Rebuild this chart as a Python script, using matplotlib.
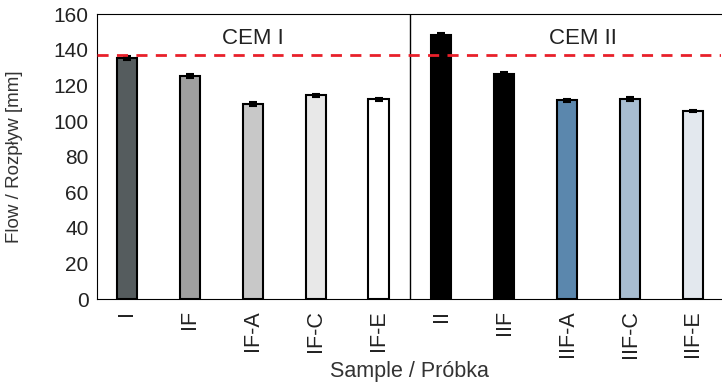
import numpy as np
import matplotlib.pyplot as plt

plt.rcParams['font.family'] = ['Liberation Sans', 'DejaVu Sans']

samples = ['I', 'IF', 'IF-A', 'IF-C', 'IF-E', 'II', 'IIF', 'IIF-A', 'IIF-C', 'IIF-E']
flow = [135.3, 125.2, 109.5, 114.5, 112.3, 148.2, 126.3, 111.7, 112.3, 105.6]
flow_err = [1.0, 1.0, 1.0, 0.8, 0.8, 1.0, 1.0, 0.8, 1.0, 0.7]
bar_colors = ['#555c5e', '#a0a0a0', '#c8c8c8', '#e8e8e8', '#ffffff',
              '#000000', '#000000', '#5b87ad', '#a8bdd1', '#e3e8ee']
reference = 137
groups = ['CEM I', 'CEM II']
txt = '#222222'

fig = plt.figure(figsize=(7.22, 3.83), dpi=100)
ax = fig.add_axes([0.134, 0.219, 0.865, 0.744])

x = np.arange(len(samples))
ax.bar(x, flow, width=0.32, color=bar_colors, edgecolor='black', linewidth=1.5,
       yerr=flow_err, capsize=3, error_kw={'elinewidth': 1, 'capthick': 1.5}, zorder=2)
ax.axhline(reference, color='#e8202a', linestyle=(0, (4, 3)), linewidth=2, zorder=3)
ax.axvline(4.5, color='black', linewidth=1)

ax.text(2, 146.5, groups[0], ha='center', va='center', fontsize=16, color=txt)
ax.text(7.25, 146.5, groups[1], ha='center', va='center', fontsize=16, color=txt)

ax.set_xlim(-0.48, 9.45)
ax.set_ylim(0, 160)
ax.set_yticks(range(0, 161, 20))
ax.set_xticks(x)
ax.set_xticklabels(samples, rotation=90)
ax.tick_params(axis='x', length=0, pad=8, labelsize=15.5, labelcolor=txt)
ax.tick_params(axis='y', length=0, pad=6, labelsize=15, labelcolor=txt)
ax.spines['right'].set_visible(False)
ax.set_ylabel('Flow / Rozpływ [mm]', fontsize=13.5, color='#333333')
ax.set_xlabel('Sample / Próbka', fontsize=15.5, color='#333333', va='baseline')
ax.yaxis.set_label_coords(-0.118, 0.5)
ax.xaxis.set_label_coords(0.5, -0.274)

fig.savefig('out.png', dpi=100)
